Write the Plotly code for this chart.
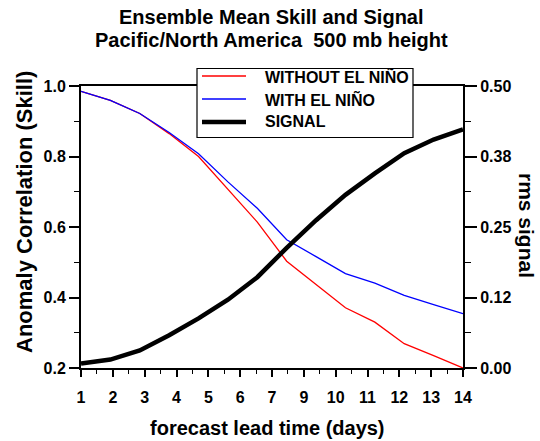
import plotly.graph_objects as go

# ---- data ----
lead_days = [1, 2, 3, 4, 5, 6, 7, 8, 9, 10, 11, 12, 13, 14]
skill_without = [0.985, 0.959, 0.922, 0.865, 0.800, 0.707, 0.614, 0.503, 0.437, 0.371, 0.330, 0.269, 0.235, 0.200]
skill_with = [0.985, 0.959, 0.922, 0.868, 0.808, 0.728, 0.653, 0.564, 0.516, 0.468, 0.441, 0.406, 0.380, 0.354]
rms_signal = [0.008, 0.015, 0.031, 0.058, 0.088, 0.121, 0.161, 0.213, 0.262, 0.307, 0.345, 0.381, 0.405, 0.423]

series_names = ["WITHOUT EL NIÑO", "WITH EL NIÑO", "SIGNAL"]
series_colors = ["#ff0000", "#0000ff", "#000000"]
series_widths = [1.3, 1.3, 4.5]

x_tick_labels = ["1", "2", "3", "4", "5", "6", "7", "9", "10", "11", "12", "13", "14"]
y2_tick_values = [0.0, 0.125, 0.25, 0.375, 0.5]
y2_tick_labels = ["0.00", "0.12", "0.25", "0.38", "0.50"]

title_lines = ["Ensemble Mean Skill and Signal", "Pacific/North America  500 mb height"]
x_title = "forecast lead time (days)"
y_title = "Anomaly Correlation (Skill)"
y2_title = "rms signal"

FONT = "Liberation Sans"

# ---- layout geometry (pixels) ----
W, H = 540, 441
ML, MR, MT, MB = 81, 77, 86, 73
PW, PH = W - ML - MR, H - MT - MB


def px_x(px):
    return (px - ML) / PW


def px_y(py):
    return (H - MB - py) / PH


n = len(x_tick_labels)
x_lo, x_hi = lead_days[0], lead_days[-1]
step = (x_hi - x_lo) / (n - 1)
x_tickvals = [x_lo + i * step for i in range(n)]
x_minor = [x_lo + (i + 0.5) * step for i in range(n - 1)]
y2_minor = [(y2_tick_values[i] + y2_tick_values[i + 1]) / 2 for i in range(len(y2_tick_values) - 1)]

fig = go.Figure()
series = [skill_without, skill_with, rms_signal]
axes = ["y", "y", "y2"]
for name, vals, col, wd, ax in zip(series_names, series, series_colors, series_widths, axes):
    fig.add_trace(go.Scatter(x=lead_days, y=vals, mode="lines", name=name, yaxis=ax,
                             line=dict(color=col, width=wd), showlegend=False))

shapes = []
annotations = []

# legend box (drawn manually to match the reference layout)
shapes.append(dict(type="rect", xref="paper", yref="paper",
                   x0=px_x(197), x1=px_x(413), y0=px_y(137.5), y1=px_y(68.5),
                   line=dict(color="black", width=1.2), fillcolor="white", layer="above"))
legend_rows = [76, 99, 122]
for name, col, wd, ry in zip(series_names, series_colors, series_widths, legend_rows):
    shapes.append(dict(type="line", xref="paper", yref="paper",
                       x0=px_x(202), x1=px_x(246), y0=px_y(ry), y1=px_y(ry),
                       line=dict(color=col, width=wd), layer="above"))
    annotations.append(dict(text=name, xref="paper", yref="paper", x=px_x(263), y=px_y(ry),
                            xanchor="left", yanchor="middle", showarrow=False,
                            font=dict(family=FONT, size=16, color="black", weight="bold")))

# two-line title
for line, ty in zip(title_lines, [17, 40]):
    annotations.append(dict(text=line, xref="paper", yref="paper", x=px_x(271), y=px_y(ty),
                            xanchor="center", yanchor="middle", showarrow=False,
                            font=dict(family=FONT, size=20, color="black", weight="bold")))

# axis titles
annotations.append(dict(text=x_title, xref="paper", yref="paper", x=px_x(267), y=px_y(428),
                        xanchor="center", yanchor="middle", showarrow=False,
                        font=dict(family=FONT, size=20, color="black", weight="bold")))
annotations.append(dict(text=y_title, xref="paper", yref="paper", x=px_x(24), y=px_y(212),
                        xanchor="center", yanchor="middle", showarrow=False, textangle=-90,
                        font=dict(family=FONT, size=22, color="black", weight="bold")))
annotations.append(dict(text=y2_title, xref="paper", yref="paper", x=px_x(527), y=px_y(225),
                        xanchor="center", yanchor="middle", showarrow=False, textangle=90,
                        font=dict(family=FONT, size=21, color="black", weight="bold")))

fig.update_layout(
    width=W, height=H,
    margin=dict(l=ML, r=MR, t=MT, b=MB, autoexpand=False),
    paper_bgcolor="white", plot_bgcolor="white",
    font=dict(family=FONT, size=16, color="black", weight="bold"),
    showlegend=False,
    shapes=shapes,
    annotations=annotations,
    xaxis=dict(range=[x_lo, x_hi], tickmode="array", tickvals=x_tickvals, ticktext=x_tick_labels,
               ticks="outside", ticklen=7, tickwidth=1.5, tickcolor="black",
               showline=True, linecolor="black", linewidth=2, mirror=True,
               showgrid=False, zeroline=False, ticklabelstandoff=7, automargin=False,
               minor=dict(tickvals=x_minor, ticks="outside", ticklen=4, tickwidth=1.2, tickcolor="black"),
               tickfont=dict(family=FONT, size=16, weight="bold")),
    yaxis=dict(range=[0.2, 1.0], tickmode="linear", tick0=0.2, dtick=0.2, tickformat=".1f",
               ticks="outside", ticklen=10, tickwidth=1.5, tickcolor="black",
               showline=True, linecolor="black", linewidth=2, automargin=False,
               showgrid=False, zeroline=False,
               minor=dict(dtick=0.1, tick0=0.2, ticks="outside", ticklen=5, tickwidth=1.2, tickcolor="black"),
               tickfont=dict(family=FONT, size=16, weight="bold")),
    yaxis2=dict(range=[0.0, 0.5], overlaying="y", side="right", anchor="x",
                tickmode="array", tickvals=y2_tick_values, ticktext=y2_tick_labels,
                ticks="outside", ticklen=12, tickwidth=1.5, tickcolor="black",
                showline=True, linecolor="black", linewidth=2, automargin=False,
                showgrid=False, zeroline=False,
                minor=dict(tickvals=y2_minor, ticks="outside", ticklen=6, tickwidth=1.2, tickcolor="black"),
                tickfont=dict(family=FONT, size=16, weight="bold")),
)

fig.write_html("out.html")
